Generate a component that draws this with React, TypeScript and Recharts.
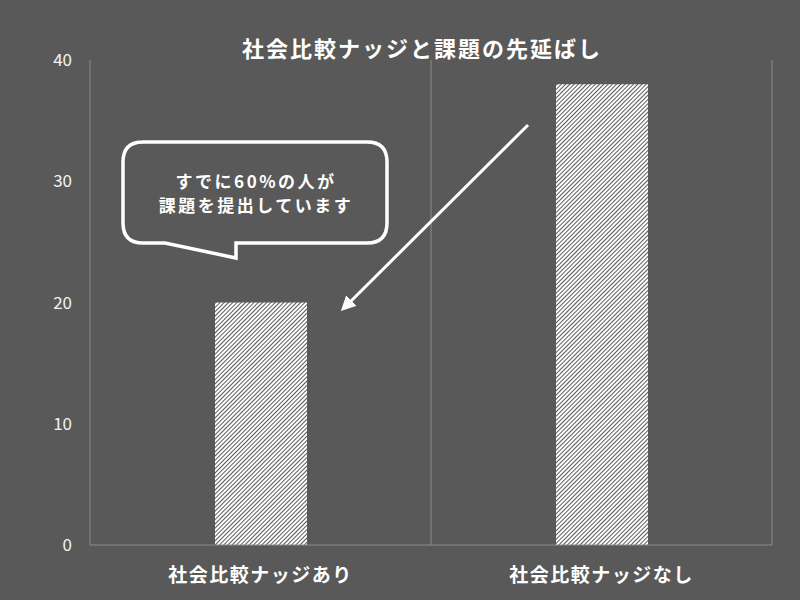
import { Bar, BarChart, CartesianGrid, XAxis, YAxis } from "recharts";

const categories = ["社会比較ナッジあり", "社会比較ナッジなし"];
const values = [20, 38];
const yTicks = [0, 10, 20, 30, 40];

const title = "社会比較ナッジと課題の先延ばし";
const calloutLines = ["すでに60%の人が", "課題を提出しています"];

const BG = "#595959";
const GRID = "#8c8c8c";
const FONT = "'Noto Sans CJK JP', 'Noto Sans', sans-serif";

const data = categories.map((name, i) => ({ name, value: values[i] }));

export default function App() {
  return (
    <div
      style={{
        position: "absolute",
        left: 0,
        top: 0,
        width: 800,
        height: 600,
        background: BG,
        fontFamily: FONT,
      }}
    >
      <BarChart
        width={800}
        height={600}
        data={data}
        margin={{ top: 60, right: 28, bottom: 25, left: 0 }}
        barSize={92}
      >
        <defs>
          <pattern
            id="hatch"
            width="3"
            height="3"
            patternUnits="userSpaceOnUse"
            patternTransform="rotate(45)"
          >
            <rect width="3" height="3" fill="#ffffff" />
            <rect width="1" height="3" fill={BG} />
          </pattern>
        </defs>
        <CartesianGrid
          horizontal={false}
          stroke={GRID}
          verticalCoordinatesGenerator={({ offset }: any) => [
            offset.left,
            offset.left + offset.width / 2,
            offset.left + offset.width,
          ]}
        />
        <XAxis
          dataKey="name"
          height={30}
          axisLine={{ stroke: GRID }}
          tickLine={false}
          tickMargin={18}
          tick={{ fill: "#ffffff", fontSize: 19, fontWeight: 700, fontFamily: FONT, letterSpacing: 1.5 }}
        />
        <YAxis
          width={90}
          domain={[0, 40]}
          ticks={yTicks}
          axisLine={false}
          tickLine={false}
          tickMargin={12}
          tick={{ fill: "#f2f2f2", fontSize: 17, fontFamily: FONT }}
        />
        <Bar dataKey="value" fill="url(#hatch)" isAnimationActive={false} />
      </BarChart>

      <svg
        width={800}
        height={600}
        style={{ position: "absolute", left: 0, top: 0, pointerEvents: "none" }}
      >
        <defs>
          <marker
            id="arrowHead"
            viewBox="0 0 10 10"
            refX="8"
            refY="5"
            markerWidth="5"
            markerHeight="5"
            orient="auto"
          >
            <path d="M0,0 L10,5 L0,10 z" fill="#ffffff" />
          </marker>
        </defs>
        <text
          x={422}
          y={47}
          textAnchor="middle"
          dominantBaseline="central"
          fill="#ffffff"
          fontSize={22}
          fontWeight={700}
          letterSpacing={2}
          fontFamily={FONT}
        >
          {title}
        </text>
        <path
          d="M142,142 H367 Q387,142 387,162 V223 Q387,243 367,243 H236 V258 L165,243 H143 Q123,243 123,223 V162 Q123,142 143,142 Z"
          fill={BG}
          stroke="#ffffff"
          strokeWidth={3.5}
          strokeLinejoin="miter"
        />
        {calloutLines.map((t, i) => (
          <text
            key={i}
            x={256}
            y={180 + i * 24}
            textAnchor="middle"
            dominantBaseline="central"
            fill="#ffffff"
            fontSize={17}
            fontWeight={700}
            letterSpacing={2.5}
            fontFamily={FONT}
          >
            {t}
          </text>
        ))}
        <line
          x1={528}
          y1={125}
          x2={343}
          y2={309}
          stroke="#ffffff"
          strokeWidth={3}
          markerEnd="url(#arrowHead)"
        />
      </svg>
    </div>
  );
}
